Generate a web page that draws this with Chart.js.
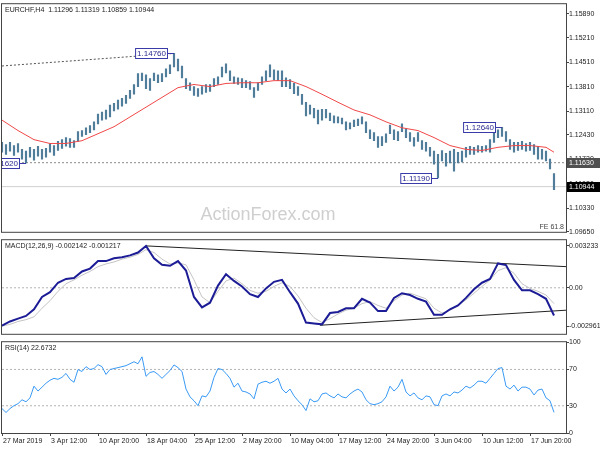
<!DOCTYPE html>
<html>
<head>
<meta charset="utf-8">
<script src="https://cdn.jsdelivr.net/npm/chart.js@4.4.1/dist/chart.umd.min.js"></script>
<style>
  body { margin: 0; background: #fff; }
  canvas { position: absolute; left: 0; }
</style>
</head>
<body>
<canvas id="price" width="600" height="236" style="top:0px"></canvas>
<canvas id="macd" width="600" height="102" style="top:236px"></canvas>
<canvas id="rsi" width="600" height="112" style="top:338px"></canvas>
<script>
// EURCHF H4 - one sample per index, time labels every 12 samples
var tickIdx = [0, 12, 24, 36, 48, 60, 72, 84, 96, 108, 120, 132];
var tickLabels = ['27 Mar 2019', '3 Apr 12:00', '10 Apr 20:00', '18 Apr 04:00', '25 Apr 12:00', '2 May 20:00',
  '10 May 04:00', '17 May 12:00', '24 May 20:00', '3 Jun 04:00', '10 Jun 12:00', '17 Jun 20:00'];

var high = [
  1.1221, 1.1215, 1.1221, 1.1212, 1.1218, 1.1201, 1.1196, 1.1207, 1.1201, 1.1210,
  1.1201, 1.1204, 1.1218, 1.1212, 1.1224, 1.1229, 1.1235, 1.1232, 1.1226, 1.1252,
  1.1255, 1.1263, 1.1269, 1.1280, 1.1302, 1.1308, 1.1314, 1.1328, 1.1333, 1.1342,
  1.1347, 1.1356, 1.1370, 1.1387, 1.1418, 1.1420, 1.1415, 1.1404, 1.1420, 1.1415,
  1.1418, 1.1432, 1.1443, 1.1476, 1.1460, 1.1440, 1.1404, 1.1392, 1.1381, 1.1375,
  1.1381, 1.1387, 1.1387, 1.1404, 1.1409, 1.1437, 1.1446, 1.1426, 1.1409, 1.1406,
  1.1404, 1.1398, 1.1395, 1.1378, 1.1392, 1.1409, 1.1426, 1.1443, 1.1429, 1.1426,
  1.1426, 1.1406, 1.1401, 1.1390, 1.1381, 1.1359, 1.1336, 1.1328, 1.1319, 1.1314,
  1.1316, 1.1316, 1.1305, 1.1297, 1.1294, 1.1291, 1.1280, 1.1277, 1.1285, 1.1288,
  1.1294, 1.1280, 1.1257, 1.1249, 1.1238, 1.1238, 1.1246, 1.1271, 1.1257, 1.1252,
  1.1274, 1.1260, 1.1249, 1.1235, 1.1249, 1.1226, 1.1221, 1.1207, 1.1196, 1.1187,
  1.1198, 1.1190, 1.1196, 1.1201, 1.1193, 1.1196, 1.1207, 1.1210, 1.1207, 1.1212,
  1.1210, 1.1212, 1.1229, 1.1249, 1.1257, 1.1264, 1.1252, 1.1229, 1.1221, 1.1221,
  1.1224, 1.1218, 1.1221, 1.1215, 1.1210, 1.1201, 1.1196, 1.1173, 1.1132
];
var low = [
  1.1193, 1.1187, 1.1196, 1.1184, 1.1193, 1.1173, 1.1162, 1.1179, 1.1170, 1.1182,
  1.1173, 1.1179, 1.1193, 1.1184, 1.1198, 1.1204, 1.1210, 1.1207, 1.1207, 1.1224,
  1.1238, 1.1243, 1.1249, 1.1257, 1.1274, 1.1285, 1.1288, 1.1294, 1.1311, 1.1316,
  1.1325, 1.1333, 1.1347, 1.1359, 1.1381, 1.1398, 1.1375, 1.1370, 1.1398, 1.1392,
  1.1395, 1.1409, 1.1418, 1.1437, 1.1426, 1.1406, 1.1375, 1.1370, 1.1356, 1.1353,
  1.1359, 1.1364, 1.1367, 1.1381, 1.1387, 1.1409, 1.1420, 1.1398, 1.1390, 1.1387,
  1.1378, 1.1378, 1.1373, 1.1350, 1.1370, 1.1387, 1.1398, 1.1409, 1.1401, 1.1398,
  1.1381, 1.1381, 1.1375, 1.1361, 1.1356, 1.1330, 1.1297, 1.1302, 1.1291, 1.1274,
  1.1285, 1.1291, 1.1283, 1.1277, 1.1277, 1.1274, 1.1257, 1.1260, 1.1266, 1.1269,
  1.1274, 1.1249, 1.1232, 1.1226, 1.1207, 1.1212, 1.1221, 1.1246, 1.1229, 1.1226,
  1.1252, 1.1235, 1.1224, 1.1210, 1.1224, 1.1201, 1.1196, 1.1182, 1.1159, 1.1119,
  1.1168, 1.1153, 1.1162, 1.1139, 1.1162, 1.1165, 1.1179, 1.1187, 1.1187, 1.1193,
  1.1193, 1.1196, 1.1193, 1.1221, 1.1235, 1.1238, 1.1224, 1.1201, 1.1193, 1.1198,
  1.1201, 1.1196, 1.1198, 1.1187, 1.1173, 1.1173, 1.1168, 1.1145, 1.1086
];

// moving average, read every 4th sample
var maIdx = [0, 4, 8, 12, 16, 20, 24, 28, 32, 36, 40, 44, 48, 52, 56, 60, 64, 68, 72, 76,
  80, 84, 88, 92, 96, 100, 104, 108, 112, 116, 120, 124, 128, 132, 136, 138];
var maVal = [1.1285, 1.1255, 1.1229, 1.1218, 1.1218, 1.1226, 1.1246, 1.1266, 1.1294, 1.1322,
  1.1350, 1.1378, 1.1387, 1.1381, 1.1390, 1.1392, 1.1392, 1.1398, 1.1398, 1.1381,
  1.1359, 1.1336, 1.1314, 1.1300, 1.1280, 1.1263, 1.1255, 1.1235, 1.1212, 1.1201,
  1.1198, 1.1207, 1.1212, 1.1212, 1.1207, 1.1193];

// MACD(12,26,9), read every 2nd sample
var macdMain = [
  -0.00292, -0.00260, -0.00238, -0.00217, -0.00166, -0.00071, -0.00034, 0.00039, 0.00068, 0.00075,
  0.00126, 0.00148, 0.00206, 0.00206, 0.00228, 0.00236, 0.00250, 0.00272, 0.00323, 0.00228,
  0.00177, 0.00170, 0.00206, 0.00133, -0.00071, -0.00151, -0.00115, 0.00017, 0.00104, 0.00053,
  0.00010, -0.00049, -0.00071, -0.00005, 0.00046, 0.00061, -0.00034, -0.00122, -0.00268, -0.00275,
  -0.00282, -0.00195, -0.00187, -0.00158, -0.00158, -0.00085, -0.00115, -0.00180, -0.00180, -0.00078,
  -0.00042, -0.00056, -0.00085, -0.00107, -0.00209, -0.00209, -0.00166, -0.00136, -0.00078, -0.00012,
  0.00039, 0.00068, 0.00188, 0.00175, 0.00061, -0.00020, -0.00020, -0.00049, -0.00085, -0.00214
];
var macdSignal = [
  -0.00296, -0.00282, -0.00260, -0.00246, -0.00224, -0.00158, -0.00100, -0.00027, 0.00031, 0.00061,
  0.00097, 0.00126, 0.00163, 0.00184, 0.00199, 0.00221, 0.00236, 0.00257, 0.00294, 0.00272,
  0.00221, 0.00184, 0.00192, 0.00177, 0.00061, -0.00071, -0.00115, -0.00027, 0.00053, 0.00075,
  0.00031, -0.00020, -0.00042, -0.00027, 0.00010, 0.00039, 0.00010, -0.00063, -0.00158, -0.00231,
  -0.00268, -0.00238, -0.00202, -0.00173, -0.00158, -0.00122, -0.00107, -0.00136, -0.00158, -0.00100,
  -0.00056, -0.00042, -0.00063, -0.00085, -0.00158, -0.00195, -0.00173, -0.00136, -0.00093, -0.00042,
  0.00010, 0.00061, 0.00133, 0.00155, 0.00112, 0.00031, -0.00005, -0.00027, -0.00056, -0.00122
];

// RSI(14), one per sample
var rsi = [
  26.9, 22.6, 26.9, 30.1, 32.3, 36.6, 34.4, 38.7, 51.6, 46.2,
  50.5, 54.8, 58.1, 60.2, 59.1, 61.3, 65.6, 59.1, 55.9, 69.9,
  67.7, 73.1, 69.9, 71.0, 75.3, 73.1, 64.5, 69.9, 71.0, 72.0,
  73.1, 74.2, 76.3, 78.5, 76.3, 83.9, 62.4, 66.7, 67.7, 64.5,
  60.2, 64.5, 68.8, 75.0, 72.0, 67.7, 48.4, 39.8, 35.5, 30.1,
  40.9, 39.8, 46.2, 61.3, 71.0, 69.9, 65.6, 60.2, 50.5, 54.8,
  46.2, 45.2, 43.0, 37.6, 53.8, 55.9, 57.0, 54.8, 57.0, 60.2,
  48.4, 44.1, 48.4, 40.9, 35.5, 31.2, 24.7, 37.6, 34.4, 35.5,
  43.0, 44.1, 40.9, 38.7, 43.0, 39.8, 38.7, 43.0, 46.2, 48.4,
  45.2, 36.6, 32.3, 31.2, 32.3, 34.4, 39.8, 51.6, 46.2, 50.5,
  59.1, 45.2, 40.9, 44.1, 38.7, 36.6, 40.9, 39.8, 31.2, 30.1,
  40.9, 43.0, 40.9, 45.2, 44.1, 47.3, 51.6, 49.5, 52.7, 57.0,
  57.0, 54.8, 60.2, 65.6, 71.0, 72.0, 51.6, 48.4, 52.7, 46.2,
  50.5, 50.5, 48.4, 41.9, 47.3, 48.4, 38.7, 35.5, 22.7
];

var priceTicks = [1.0965, 1.1033, 1.1102, 1.1173, 1.1243, 1.1311, 1.1381, 1.1451, 1.1521, 1.1589];
var macdTicks = [-0.002961, 0, 0.003233];
var rsiTicks = [0, 30, 70, 100];

// swing high/low labels
var swingIdx = [6, 43, 109, 125];
var swingVal = [1.1162, 1.1476, 1.1119, 1.1264];
var swingText = ['1.11620', '1.14760', '1.11190', '1.12640'];

// lines drawn on the panels
var levelPrice = 1.1163;
var bidPrice = 1.10944;
var trendPrice = [[0, 1.1440], [43, 1.1476]];
var macdUpper = [[36, 0.00323], [141, 0.00163]];
var macdLower = [[79.5, -0.00289], [141, -0.00173]];

var LAST = 141;
var FONT = 'Liberation Sans';
Chart.defaults.font.family = FONT;
Chart.defaults.font.size = 7;
Chart.defaults.color = '#222';

function pts(vals, idxFn) {
  return vals.map(function (v, k) { return {x: idxFn(k), y: v}; });
}
function seg(pairs) {
  return pairs.map(function (p) { return {x: p[0], y: p[1]}; });
}
function line(data, color, width, dash) {
  return {type: 'line', data: data, borderColor: color, borderWidth: width || 1,
    borderDash: dash || [], pointRadius: 0, tension: 0, fill: false};
}

function xScale(show) {
  var s = {
    type: 'linear', min: 0, max: LAST, display: show, offset: false,
    afterBuildTicks: function (s) { s.ticks = tickIdx.map(function (v) { return {value: v}; }); },
    grid: {drawOnChartArea: false, drawTicks: true, tickLength: 3, color: '#444', offset: false},
    border: {display: false},
    ticks: {autoSkip: false, maxRotation: 0, align: 'start', labelOffset: 1, padding: 1,
      callback: function (v) { return tickLabels[tickIdx.indexOf(v)]; }}
  };
  if (show) s.afterFit = function (sc) { sc.height = 17; };
  return s;
}
function yScale(min, max, ticks, fmt) {
  return {
    position: 'right', min: min, max: max,
    afterBuildTicks: function (s) { s.ticks = ticks.map(function (v) { return {value: v}; }); },
    afterFit: function (s) { s.width = 34; },
    grid: {drawOnChartArea: false, tickLength: 3, color: '#444'},
    border: {color: '#444'},
    ticks: {padding: 0, callback: fmt}
  };
}

var frame = {
  id: 'frame',
  afterDraw: function (c) {
    var a = c.chartArea, ctx = c.ctx;
    ctx.save();
    ctx.strokeStyle = '#444';
    ctx.lineWidth = 1;
    ctx.strokeRect(a.left - 0.5, a.top - 0.5, a.right - a.left + 1, a.bottom - a.top + 1);
    ctx.restore();
  }
};
function caption(text) {
  return {
    id: 'caption',
    afterDraw: function (c) {
      var ctx = c.ctx;
      ctx.save();
      ctx.font = '7px ' + FONT;
      ctx.fillStyle = '#222';
      ctx.textBaseline = 'middle';
      ctx.fillText(text, c.chartArea.left + 3, c.chartArea.top + 6);
      ctx.restore();
    }
  };
}

var priceDecor = {
  id: 'priceDecor',
  beforeDatasetsDraw: function (c) {
    var ctx = c.ctx;
    ctx.save();
    ctx.font = '18px ' + FONT;
    ctx.fillStyle = '#cfcfcf';
    ctx.textAlign = 'center';
    ctx.textBaseline = 'middle';
    ctx.fillText('ActionForex.com', 268, 215);
    ctx.font = '7px ' + FONT;
    ctx.fillStyle = '#444';
    ctx.textAlign = 'right';
    ctx.fillText('FE 61.8', c.chartArea.right - 2, c.chartArea.bottom - 5);
    ctx.restore();
  },
  afterDatasetsDraw: function (c) {
    var ctx = c.ctx, a = c.chartArea, xs = c.scales.x, ys = c.scales.y;
    ctx.save();
    ctx.beginPath();
    ctx.rect(a.left, a.top, a.right - a.left, a.bottom - a.top);
    ctx.clip();
    ctx.font = '8px ' + FONT;
    ctx.textBaseline = 'middle';
    swingIdx.forEach(function (i, k) {
      var px = Math.round(xs.getPixelForValue(i));
      var py = Math.round(ys.getPixelForValue(swingVal[k])) + 0.5;
      var w = ctx.measureText(swingText[k]).width + 4;
      var right = px - 6;
      ctx.strokeStyle = '#3a3aa8';
      ctx.lineWidth = 1;
      ctx.beginPath();
      ctx.moveTo(right, py);
      ctx.lineTo(px, py);
      ctx.stroke();
      ctx.fillStyle = '#fff';
      ctx.fillRect(right - w, py - 5, w, 10);
      ctx.strokeRect(right - w + 0.5, py - 5, w - 1, 10);
      ctx.fillStyle = '#2a2a90';
      ctx.textAlign = 'left';
      ctx.fillText(swingText[k], right - w + 2, py + 0.5);
    });
    ctx.restore();
  },
  afterDraw: function (c) {
    var ctx = c.ctx, ys = c.scales.y;
    var marks = [[levelPrice, '#505050'], [bidPrice, '#000']];
    ctx.save();
    ctx.font = '7px ' + FONT;
    ctx.textBaseline = 'middle';
    marks.forEach(function (m) {
      var py = Math.round(ys.getPixelForValue(m[0]));
      ctx.fillStyle = m[1];
      ctx.fillRect(567, py - 5, 33, 10);
      ctx.fillStyle = '#fff';
      ctx.fillText(m[0].toFixed(5), 569, py);
    });
    ctx.restore();
  }
};

var base = {responsive: false, animation: false, devicePixelRatio: 1,
  plugins: {legend: {display: false}, tooltip: {enabled: false}}};

new Chart(document.getElementById('price'), {
  type: 'line',
  data: {
    datasets: [
      line(seg(trendPrice), '#555', 1, [2, 2]),
      line(maIdx.map(function (i, k) { return {x: i, y: maVal[k]}; }), '#f04848', 1),
      {type: 'bar', data: high.map(function (h, i) { return {x: i, y: [low[i], h]}; }),
        backgroundColor: '#4f7d9a', barThickness: 1.5},
      line(seg([[0, levelPrice], [LAST, levelPrice]]), '#8a8a8a', 1, [2, 2]),
      line(seg([[0, bidPrice], [LAST, bidPrice]]), '#cfcfcf', 1)
    ]
  },
  options: Object.assign({}, base, {
    layout: {padding: {top: 2, left: 2, right: 0, bottom: 3}},
    scales: {
      x: xScale(false),
      y: yScale(1.0965, 1.1617, priceTicks, function (v) { return v.toFixed(5); })
    }
  }),
  plugins: [priceDecor, frame, caption('EURCHF,H4  1.11296 1.11319 1.10859 1.10944')]
});

new Chart(document.getElementById('macd'), {
  type: 'line',
  data: {
    datasets: [
      line(pts(macdMain, function (k) { return 2 * k; }), '#1c1c96', 2),
      line(pts(macdSignal, function (k) { return 2 * k; }), '#c4c4c4', 1),
      line(seg(macdUpper), '#222', 1),
      line(seg(macdLower), '#222', 1),
      line(seg([[0, 0], [LAST, 0]]), '#b4b4b4', 1, [2, 2])
    ]
  },
  options: Object.assign({}, base, {
    layout: {padding: {top: 2, left: 2, right: 0, bottom: 1}},
    scales: {
      x: xScale(false),
      y: yScale(-0.00355, 0.00367, macdTicks, function (v) { return v === 0 ? '0.00' : v.toFixed(6); })
    }
  }),
  plugins: [frame, caption('MACD(12,26,9) -0.002142 -0.001217')]
});

new Chart(document.getElementById('rsi'), {
  type: 'line',
  data: {
    datasets: [
      line(pts(rsi, function (k) { return k; }), '#3a9af5', 1),
      line(seg([[0, 70], [LAST, 70]]), '#b4b4b4', 1, [2, 2]),
      line(seg([[0, 30], [LAST, 30]]), '#b4b4b4', 1, [2, 2])
    ]
  },
  options: Object.assign({}, base, {
    layout: {padding: {top: 2, left: 2, right: 0, bottom: 0}},
    scales: {
      x: xScale(true),
      y: yScale(0, 100, rsiTicks, function (v) { return String(v); })
    }
  }),
  plugins: [frame, caption('RSI(14) 22.6732')]
});
</script>
</body>
</html>
